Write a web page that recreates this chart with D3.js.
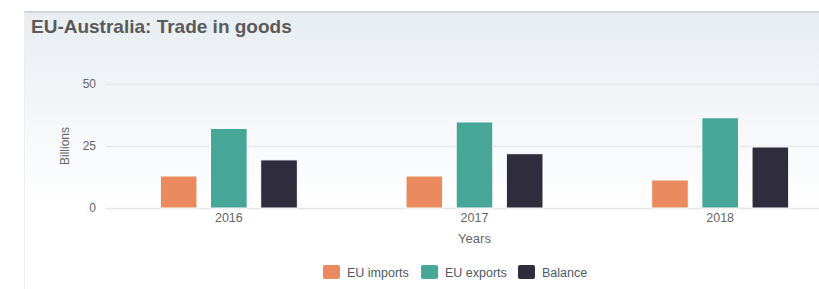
<!DOCTYPE html>
<html>
<head>
<meta charset="utf-8">
<script src="https://cdn.jsdelivr.net/npm/d3@7"></script>
<style>
  body { margin: 0; background: #fff; }
  svg { display: block; font-family: "Liberation Sans", Arial, sans-serif; }
</style>
</head>
<body>
<svg id="chart" width="819" height="289"></svg>
<script>
const years = ['2016', '2017', '2018'];
const seriesNames = ['EU imports', 'EU exports', 'Balance'];
const seriesColors = ['#e98b5e', '#46a698', '#2f2c3d'];
const euImports = [12.9, 12.9, 11.3];
const euExports = [32.1, 34.7, 36.4];
const balance = [19.4, 21.9, 24.6];
const yTicks = [0, 25, 50];

const values = [euImports, euExports, balance];

const svg = d3.select('#chart');
const W = 819, H = 289;

// panel with soft gradient background
const defs = svg.append('defs');
const grad = defs.append('linearGradient')
  .attr('id', 'bg')
  .attr('x1', 0).attr('y1', 0).attr('x2', 0).attr('y2', 1);
grad.append('stop').attr('offset', '0%').attr('stop-color', '#e8edf2');
grad.append('stop').attr('offset', '70%').attr('stop-color', '#ffffff');
grad.append('stop').attr('offset', '100%').attr('stop-color', '#ffffff');

svg.append('rect')
  .attr('x', 24).attr('y', 12)
  .attr('width', W - 24).attr('height', H - 12)
  .attr('fill', 'url(#bg)');
svg.append('line')
  .attr('x1', 24).attr('x2', W).attr('y1', 12).attr('y2', 12)
  .attr('stroke', '#d3d5d8').attr('stroke-width', 2);
svg.append('line')
  .attr('x1', 24.5).attr('x2', 24.5).attr('y1', 12).attr('y2', H)
  .attr('stroke', '#eceef0').attr('stroke-width', 1);

svg.append('text')
  .attr('x', 31).attr('y', 33)
  .attr('fill', '#5a5a5a')
  .style('font-size', '19px')
  .style('font-weight', 'bold')
  .text('EU-Australia: Trade in goods');

const margin = { left: 106, top: 84 };
const plotW = 737;
const y = d3.scaleLinear().domain([0, 50]).range([208, 84]);
const x0 = d3.scaleBand().domain(years).range([margin.left, margin.left + plotW]);
const x1 = d3.scaleBand().domain(seriesNames).range([0, 137]).paddingInner(0.27);
const groupOffset = (x0.bandwidth() - 137) / 2;

// gridlines
svg.append('g')
  .selectAll('line')
  .data(yTicks)
  .join('line')
  .attr('x1', margin.left).attr('x2', W)
  .attr('y1', d => y(d) + 0.5).attr('y2', d => y(d) + 0.5)
  .attr('stroke', '#e3e6ea').attr('stroke-width', 1.5);

// y axis labels
const yAxis = d3.axisLeft(y).tickValues(yTicks).tickSize(0).tickPadding(0);
svg.append('g')
  .attr('transform', 'translate(96,0)')
  .call(yAxis)
  .call(g => g.select('.domain').remove())
  .call(g => g.selectAll('text')
    .attr('fill', '#666')
    .style('font-size', '12px')
    .style('font-family', '"Liberation Sans", Arial, sans-serif'));

svg.append('text')
  .attr('transform', 'translate(69,146) rotate(-90)')
  .attr('text-anchor', 'middle')
  .attr('fill', '#666')
  .style('font-size', '12px')
  .text('Billions');

// bars
const groups = svg.append('g')
  .selectAll('g')
  .data(years)
  .join('g')
  .attr('transform', d => `translate(${x0(d) + groupOffset},0)`);

groups.selectAll('rect')
  .data((d, i) => seriesNames.map((s, k) => ({ s, k, v: values[k][i] })))
  .join('rect')
  .attr('x', d => x1(d.s))
  .attr('width', x1.bandwidth())
  .attr('y', d => y(d.v))
  .attr('height', d => y(0) - y(d.v))
  .attr('fill', d => seriesColors[d.k])
  .attr('stroke', '#fff')
  .attr('stroke-width', 1);

// x axis labels
const xAxis = d3.axisBottom(x0).tickSize(0).tickPadding(0);
svg.append('g')
  .attr('transform', 'translate(0,213)')
  .call(xAxis)
  .call(g => g.select('.domain').remove())
  .call(g => g.selectAll('text')
    .attr('fill', '#666')
    .style('font-size', '12.5px')
    .style('font-family', '"Liberation Sans", Arial, sans-serif'));

svg.append('text')
  .attr('x', x0('2017') + x0.bandwidth() / 2)
  .attr('y', 243)
  .attr('text-anchor', 'middle')
  .attr('fill', '#666')
  .style('font-size', '13px')
  .text('Years');

// legend
const legendX = [323, 421, 518];
const legend = svg.append('g')
  .selectAll('g')
  .data(seriesNames)
  .join('g')
  .attr('transform', (d, i) => `translate(${legendX[i]},265)`);
legend.append('rect')
  .attr('width', 17).attr('height', 14)
  .attr('rx', 2)
  .attr('fill', (d, i) => seriesColors[i]);
legend.append('text')
  .attr('x', 24).attr('y', 12)
  .attr('fill', '#4d5a6a')
  .style('font-size', '12.5px')
  .text(d => d);
</script>
</body>
</html>
